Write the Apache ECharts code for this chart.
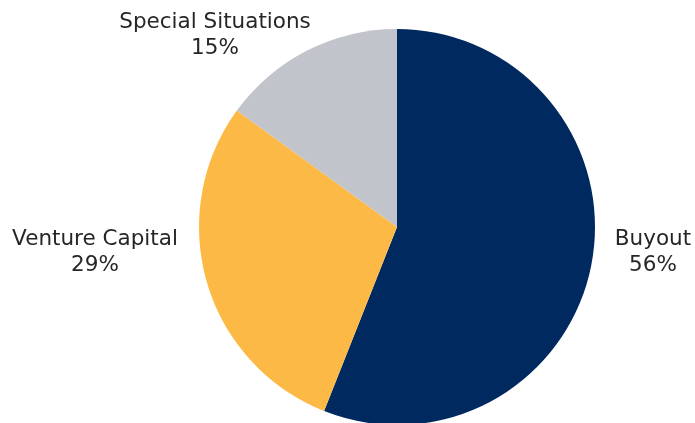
<!DOCTYPE html>
<html>
<head>
<meta charset="utf-8">
<script src="https://cdn.jsdelivr.net/npm/echarts@6/dist/echarts.min.js"></script>
<style>html,body{margin:0;padding:0;background:#fff;}#c{width:695px;height:423px;}</style>
</head>
<body>
<div id="c"></div>
<script>
var categories = ["Buyout", "Venture Capital", "Special Situations"];
var values = [56, 29, 15];
var colors = ["#002960", "#FDB945", "#C1C4CB"];
var labelPos = [[653, 252], [95, 252], [215, 35]];

var chart = echarts.init(document.getElementById('c'), null, {renderer: 'canvas'});
chart.setOption({
  animation: false,
  series: [{
    type: 'pie',
    center: [397, 227],
    radius: 198,
    startAngle: 90,
    clockwise: true,
    silent: true,
    avoidLabelOverlap: false,
    data: categories.map(function (c, i) {
      return {name: c, value: values[i], itemStyle: {color: colors[i]}};
    }),
    itemStyle: {borderWidth: 0},
    label: {
      show: true,
      position: 'outside',
      formatter: function (p) { return p.name + '\n' + p.value + '%'; },
      fontFamily: 'DejaVu Sans',
      fontSize: 21.5,
      lineHeight: 26,
      color: '#262626',
      align: 'center',
      overflow: 'none',
      width: 300
    },
    labelLine: {show: false},
    labelLayout: function (p) {
      var pos = labelPos[p.dataIndex];
      return {x: pos[0], y: pos[1], align: 'center', verticalAlign: 'middle'};
    }
  }]
});
</script>
</body>
</html>
